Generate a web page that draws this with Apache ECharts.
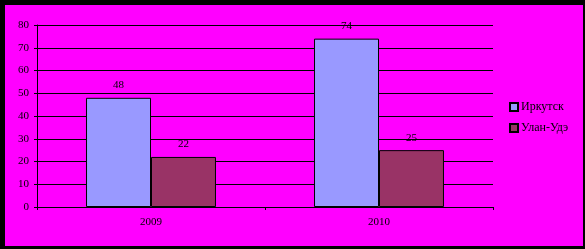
<!DOCTYPE html>
<html><head><meta charset="utf-8">
<script src="https://cdn.jsdelivr.net/npm/echarts@6/dist/echarts.min.js"></script>
<style>html,body{margin:0;padding:0;background:#000}#c{width:585px;height:249px}</style>
</head><body><div id="c"></div>
<script>
const categories = ['2009', '2010'];
const irkutsk = [48, 74];
const ulanUde = [22, 25];
const seriesNames = ['Иркутск', 'Улан-Удэ'];
const yTicks = [0, 10, 20, 30, 40, 50, 60, 70, 80];

const font = 'Liberation Serif';
const chart = echarts.init(document.getElementById('c'));
chart.setOption({
  backgroundColor: '#000',
  animation: false,
  graphic: [{ type: 'rect', shape: { x: 5, y: 5, width: 578, height: 241 }, style: { fill: '#FF00FF' }, z: -10 }],
  grid: { left: 37, top: 25, width: 456, height: 182 },
  legend: {
    orient: 'vertical', left: 509, top: 100, padding: 0, itemWidth: 8, itemHeight: 8, itemGap: 7,
    icon: 'rect',
    textStyle: { fontFamily: font, fontSize: 12, lineHeight: 14, color: '#000', padding: [0, 0, 0, -2] },
    data: seriesNames
  },
  xAxis: {
    type: 'category', data: categories,
    axisLine: { lineStyle: { color: '#000', width: 1 } },
    axisTick: { show: true, length: 3, lineStyle: { color: '#000' } },
    axisLabel: { fontFamily: font, fontSize: 11, color: '#000', margin: 10 }
  },
  yAxis: {
    type: 'value', min: yTicks[0], max: yTicks[yTicks.length - 1], interval: 10,
    axisLine: { show: true, lineStyle: { color: '#000', width: 1 } },
    axisTick: { show: true, length: 3, lineStyle: { color: '#000' } },
    axisLabel: { fontFamily: font, fontSize: 11, color: '#000', margin: 8 },
    splitLine: { lineStyle: { color: '#000', width: 1 } }
  },
  series: [
    {
      name: seriesNames[0], type: 'bar', data: irkutsk, barGap: '0%', barCategoryGap: '43%',
      itemStyle: { color: '#9999FF', borderColor: '#000', borderWidth: 1 },
      label: { show: true, position: 'top', distance: 7, fontFamily: font, fontSize: 11, color: '#000' }
    },
    {
      name: seriesNames[1], type: 'bar', data: ulanUde,
      itemStyle: { color: '#993366', borderColor: '#000', borderWidth: 1 },
      label: { show: true, position: 'top', distance: 7, fontFamily: font, fontSize: 11, color: '#000' }
    }
  ]
});
</script></body></html>
